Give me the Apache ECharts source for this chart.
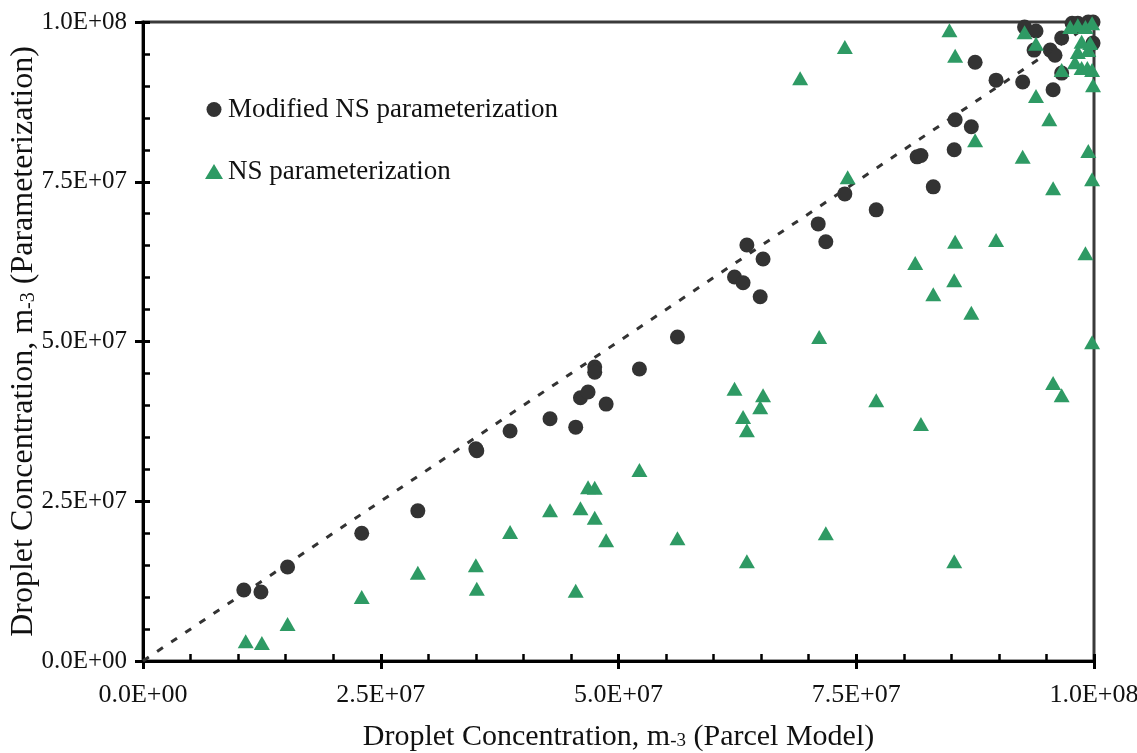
<!DOCTYPE html>
<html>
<head>
<meta charset="utf-8">
<script src="https://cdn.jsdelivr.net/npm/echarts@6/dist/echarts.min.js"></script>
<style>
html,body{margin:0;padding:0;background:#fff;}
#chart{width:1137px;height:753px;}
</style>
</head>
<body>
<div id="chart"></div>
<script>
// ---- data (values in m^-3) ----
var seriesNames = ['Modified NS parameterization', 'NS parameterization'];
var xTickLabels = ['0.0E+00', '2.5E+07', '5.0E+07', '7.5E+07', '1.0E+08'];
var yTickLabels = ['0.0E+00', '2.5E+07', '5.0E+07', '7.5E+07', '1.0E+08'];
var oneToOne = [[0, 0], [1.0e8, 1.0e8]];

var modifiedNS = [
  [1.06e7, 1.11e7], [1.24e7, 1.08e7], [1.52e7, 1.47e7], [2.30e7, 2.00e7], [2.89e7, 2.35e7],
  [3.50e7, 3.32e7], [3.51e7, 3.29e7], [3.86e7, 3.60e7], [4.28e7, 3.79e7], [4.55e7, 3.66e7],
  [4.60e7, 4.12e7], [4.68e7, 4.21e7], [4.75e7, 4.60e7], [4.75e7, 4.52e7], [4.87e7, 4.02e7],
  [5.22e7, 4.57e7], [5.62e7, 5.07e7], [6.22e7, 6.01e7], [6.31e7, 5.92e7], [6.35e7, 6.51e7],
  [6.52e7, 6.29e7], [6.49e7, 5.70e7], [7.10e7, 6.84e7], [7.18e7, 6.56e7], [7.38e7, 7.31e7],
  [7.71e7, 7.06e7], [8.14e7, 7.89e7], [8.18e7, 7.91e7], [8.31e7, 7.42e7], [8.53e7, 8.00e7],
  [8.54e7, 8.47e7], [8.71e7, 8.36e7], [8.75e7, 9.37e7], [8.97e7, 9.09e7], [9.25e7, 9.06e7],
  [9.27e7, 9.92e7], [9.39e7, 9.86e7], [9.37e7, 9.56e7], [9.54e7, 9.56e7], [9.59e7, 9.48e7],
  [9.57e7, 8.94e7], [9.66e7, 9.75e7], [9.66e7, 9.20e7], [9.77e7, 9.98e7], [9.83e7, 9.98e7],
  [9.94e7, 1.00e8], [9.99e7, 1.00e8], [9.99e7, 9.67e7]
];

var ns = [
  [1.08e7, 0.31e7], [1.25e7, 0.28e7], [1.52e7, 0.58e7], [2.30e7, 1.00e7], [2.89e7, 1.38e7],
  [3.50e7, 1.50e7], [3.51e7, 1.13e7], [3.86e7, 2.02e7], [4.28e7, 2.36e7], [4.55e7, 1.10e7],
  [4.60e7, 2.39e7], [4.68e7, 2.72e7], [4.75e7, 2.71e7], [4.75e7, 2.24e7], [4.87e7, 1.89e7],
  [5.22e7, 2.99e7], [5.62e7, 1.92e7], [6.22e7, 4.26e7], [6.31e7, 3.82e7], [6.35e7, 3.61e7],
  [6.35e7, 1.56e7], [6.49e7, 3.97e7], [6.52e7, 4.16e7], [6.91e7, 9.12e7], [7.11e7, 5.07e7],
  [7.18e7, 2.00e7], [7.38e7, 9.61e7], [7.41e7, 7.57e7], [7.71e7, 4.08e7], [8.12e7, 6.23e7],
  [8.18e7, 3.71e7], [8.31e7, 5.74e7], [8.48e7, 9.87e7], [8.53e7, 5.96e7], [8.53e7, 1.56e7],
  [8.54e7, 9.47e7], [8.54e7, 6.56e7], [8.71e7, 5.45e7], [8.75e7, 8.15e7], [8.97e7, 6.59e7],
  [9.25e7, 7.89e7], [9.27e7, 9.84e7], [9.39e7, 9.66e7], [9.39e7, 8.84e7], [9.53e7, 8.48e7],
  [9.57e7, 7.40e7], [9.57e7, 4.35e7], [9.66e7, 9.25e7], [9.66e7, 4.16e7], [9.75e7, 9.92e7],
  [9.80e7, 9.37e7], [9.83e7, 9.95e7], [9.83e7, 9.53e7], [9.87e7, 9.69e7], [9.87e7, 9.28e7],
  [9.91e7, 9.92e7], [9.91e7, 6.38e7], [9.93e7, 9.28e7], [9.94e7, 9.56e7], [9.94e7, 7.98e7],
  [9.96e7, 9.67e7], [9.98e7, 9.98e7], [9.98e7, 9.25e7], [9.98e7, 7.54e7], [9.99e7, 9.01e7],
  [9.98e7, 4.99e7]
];

// ---- chart ----
var FONT = '"Liberation Serif", "Times New Roman", serif';
var TXT = '#111111';
var STEP = 2.5e7;
function tickLabel(arr) {
  return function (v) { var i = Math.round(v / STEP); return arr[i] !== undefined ? arr[i] : ''; };
}
var chart = echarts.init(document.getElementById('chart'), null, {renderer: 'canvas'});

var baseAxis = {
  type: 'value', min: 0, max: 1e8, interval: STEP,
  splitLine: {show: false}
};

var option = {
  backgroundColor: '#ffffff',
  animation: false,
  grid: {left: 143, right: 43, top: 22, bottom: 92, show: true, borderColor: '#3a3a3a', borderWidth: 3,
         containLabel: false, outerBoundsMode: 'none'},
  legend: {
    orient: 'vertical', left: 200, top: 91,
    itemWidth: 18, itemHeight: 15, itemGap: 35,
    data: seriesNames,
    textStyle: {fontFamily: FONT, fontSize: 27, color: TXT}
  },
  xAxis: [
    Object.assign({}, baseAxis, {
      position: 'bottom',
      axisLine: {show: true, lineStyle: {color: '#000', width: 3}},
      axisTick: {show: true, inside: false, length: 8, lineStyle: {color: '#000', width: 3}},
      axisLabel: {show: true, margin: 21, formatter: tickLabel(xTickLabels), fontFamily: FONT, fontSize: 26, color: TXT},
      name: '{a|Droplet Concentration, m}{s|-3}{a| (Parcel Model)}',
      nameLocation: 'middle', nameGap: 61, nameMoveOverlap: false,
      nameTextStyle: {rich: {
        a: {fontFamily: FONT, fontSize: 30, color: TXT},
        s: {fontFamily: FONT, fontSize: 19, color: TXT, padding: [9, 0, 0, 0]}
      }}
    }),
    Object.assign({}, baseAxis, {
      position: 'bottom', gridIndex: 0,
      axisLine: {show: false},
      axisTick: {show: true, inside: true, length: 7, lineStyle: {color: '#000', width: 3}},
      minorTick: {show: true, splitNumber: 5, length: 7, lineStyle: {color: '#000', width: 2.5}},
      axisLabel: {show: false}
    })
  ],
  yAxis: [
    Object.assign({}, baseAxis, {
      position: 'left',
      axisLine: {show: true, lineStyle: {color: '#000', width: 3}},
      axisTick: {show: true, inside: false, length: 8, lineStyle: {color: '#000', width: 3}},
      axisLabel: {show: true, margin: 16, formatter: tickLabel(yTickLabels), fontFamily: FONT, fontSize: 25, color: TXT},
      name: '{a|Droplet Concentration, m}{s|-3}{a| (Parameterization)}',
      nameLocation: 'middle', nameGap: 103, nameMoveOverlap: false,
      nameTextStyle: {rich: {
        a: {fontFamily: FONT, fontSize: 32, color: TXT},
        s: {fontFamily: FONT, fontSize: 20, color: TXT, padding: [10, 0, 0, 0]}
      }}
    }),
    Object.assign({}, baseAxis, {
      position: 'left', gridIndex: 0,
      axisLine: {show: false},
      axisTick: {show: true, inside: true, length: 7, lineStyle: {color: '#000', width: 3}},
      minorTick: {show: true, splitNumber: 5, length: 7, lineStyle: {color: '#000', width: 2.5}},
      axisLabel: {show: false}
    })
  ],
  series: [
    {
      name: seriesNames[0], type: 'scatter', xAxisIndex: 0, yAxisIndex: 0,
      symbol: 'circle', symbolSize: 15, data: modifiedNS, z: 3,
      itemStyle: {color: '#333333', opacity: 1}
    },
    {
      name: '1:1', type: 'line', xAxisIndex: 0, yAxisIndex: 0, data: oneToOne,
      showSymbol: false, symbol: 'none', z: 4, silent: true,
      lineStyle: {color: '#333333', width: 3, type: [7, 10]}
    },
    {
      name: seriesNames[1], type: 'scatter', xAxisIndex: 0, yAxisIndex: 0,
      symbol: 'triangle', symbolSize: [16, 14], data: ns, z: 5,
      itemStyle: {color: '#2e9a64', opacity: 1}
    }
  ]
};
chart.setOption(option);
</script>
</body>
</html>
